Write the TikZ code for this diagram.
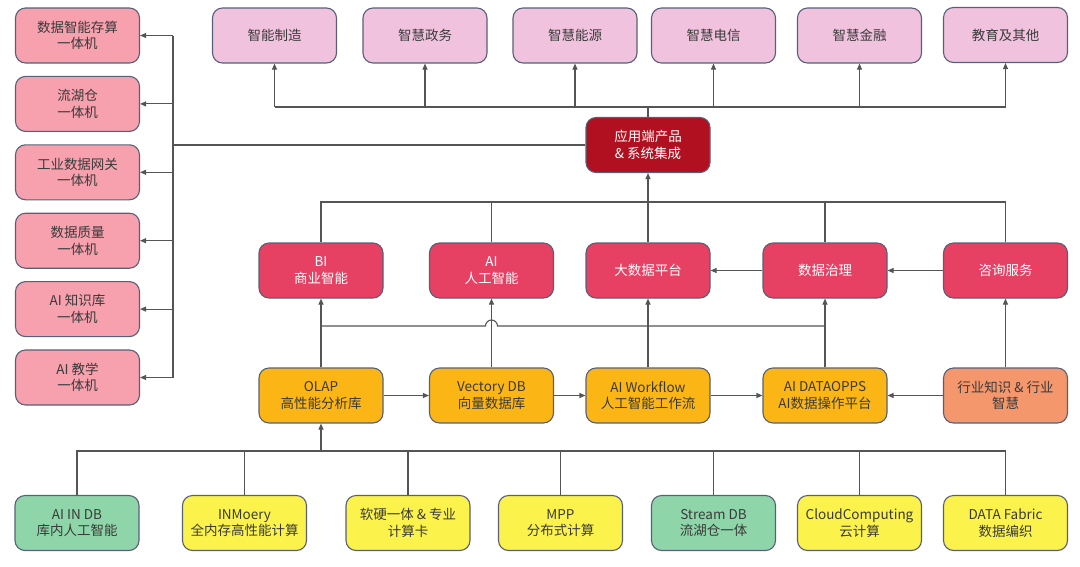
\documentclass[tikz,border=0pt]{standalone}
\usepackage{fontspec}
\setmainfont{Noto Sans CJK SC}
\usetikzlibrary{arrows.meta}

\definecolor{edge}{HTML}{5A5F78}
\definecolor{wirec}{HTML}{555555}
\definecolor{ink}{HTML}{3A3A3A}
\definecolor{sidepink}{HTML}{F7A0AE}
\definecolor{toppink}{HTML}{F1C2DE}
\definecolor{appred}{HTML}{B0101F}
\definecolor{midred}{HTML}{E64062}
\definecolor{amber}{HTML}{FBB615}
\definecolor{peach}{HTML}{F4976C}
\definecolor{mint}{HTML}{8ED6A9}
\definecolor{lemon}{HTML}{FBF34B}

\begin{document}
\begin{tikzpicture}[x=1pt, y=-1pt,
  every node/.style={font=\fontsize{13.5}{16.5}\selectfont, align=center},
  box/.style={draw=edge, line width=1.1pt, rounded corners=10pt,
    minimum width=124pt, minimum height=55pt, inner sep=0pt, text=ink},
  redbox/.style={box, text=white},
  wire/.style={draw=wirec, line width=1.1pt},
  arr/.style={wire, -{Triangle[length=6pt,width=5pt]}}]
  \useasboundingbox (0,0) rectangle (1080,566);
  % all-in-one machines
  \foreach \i/\t in {1/数据智能存算\\一体机, 2/流湖仓\\一体机, 3/工业数据网关\\一体机,
      4/数据质量\\一体机, 5/AI 知识库\\一体机, 6/AI 教学\\一体机}
    \node[box, fill=sidepink] (l\i) at (77.5,{35.5+68.4*(\i-1)}) {\t};
  % industries
  \node[box, fill=toppink] (t1) at (274.5,35.5) {智能制造};
  \node[box, fill=toppink] (t2) at (425,35.5) {智慧政务};
  \node[box, fill=toppink] (t3) at (575,35.5) {智慧能源};
  \node[box, fill=toppink] (t4) at (713.5,35.5) {智慧电信};
  \node[box, fill=toppink] (t5) at (859.5,35.5) {智慧金融};
  \node[box, fill=toppink] (t6) at (1005.5,35) {教育及其他};
  \node[redbox, fill=appred] (app) at (648,145) {应用端产品\\\& 系统集成};
  % services
  \node[redbox, fill=midred] (m1) at (321,270.5) {BI\\商业智能};
  \node[redbox, fill=midred] (m2) at (491.5,270.5) {AI\\人工智能};
  \node[redbox, fill=midred] (m3) at (648,270.5) {大数据平台};
  \node[redbox, fill=midred] (m4) at (825,270.5) {数据治理};
  \node[redbox, fill=midred] (m5) at (1005.5,270.5) {咨询服务};
  % platforms
  \node[box, fill=amber] (y1) at (321,395.5) {OLAP\\高性能分析库};
  \node[box, fill=amber] (y2) at (491.5,395.5) {Vectory DB\\向量数据库};
  \node[box, fill=amber] (y3) at (648,395.5) {AI Workflow\\人工智能工作流};
  \node[box, fill=amber] (y4) at (825,395.5) {AI DATAOPPS\\AI数据操作平台};
  \node[box, fill=peach] (y5) at (1005.5,395.5) {行业知识 \& 行业\\智慧};
  % base technologies
  \node[box, fill=mint] (b1) at (77,523) {AI IN DB\\库内人工智能};
  \node[box, fill=lemon] (b2) at (244.5,523) {INMoery\\全内存高性能计算};
  \node[box, fill=lemon] (b3) at (408,523) {软硬一体 \& 专业\\计算卡};
  \node[box, fill=lemon] (b4) at (560.5,523) {MPP\\分布式计算};
  \node[box, fill=mint] (b5) at (713.5,523) {Stream DB\\流湖仓一体};
  \node[box, fill=lemon] (b6) at (859.5,523) {CloudComputing\\云计算};
  \node[box, fill=lemon] (b7) at (1005.5,523) {DATA Fabric\\数据编织};
  % upward to industries
  \coordinate (tbus) at (648,107);
  \draw[wire] (app.north) -- (tbus);
  \draw[wire] (t1.south |- tbus) -- (t6.south |- tbus);
  \foreach \i in {1,...,6} \draw[arr] (t\i.south |- tbus) -- (t\i.south);
  % left to machines
  \coordinate (lbus) at (173,145);
  \draw[wire] (app.west) -- (lbus);
  \draw[wire] (lbus |- l1.east) -- (lbus |- l6.east);
  \foreach \i in {1,...,6} \draw[arr] (lbus |- l\i.east) -- (l\i.east);
  % services into the integration box
  \coordinate (rbus) at (648,202);
  \draw[wire] (m1.north) -- (m1.north |- rbus) -- (m5.north |- rbus) -- (m5.north);
  \foreach \i in {2,4} \draw[wire] (m\i.north) -- (m\i.north |- rbus);
  \draw[arr] (m3.north) -- (app.south);
  \draw[arr] (m5) -- (m4);
  \draw[arr] (m4) -- (m3);
  % platform row
  \draw[arr] (y1) -- (y2);
  \draw[arr] (y2) -- (y3);
  \draw[arr] (y3) -- (y4);
  \draw[arr] (y5) -- (y4);
  \foreach \i in {1,...,5} \draw[arr] (y\i) -- (m\i);
  \coordinate (mbus) at (648,326);
  \coordinate (hop) at (y2.north |- mbus);
  \draw[wire] (y1.north |- mbus) -- ([xshift=-6pt]hop)
    arc[start angle=180, end angle=360, radius=6] -- (y4.north |- mbus);
  % base row
  \coordinate (bbus) at (321,451);
  \draw[wire] (b1.north) -- (b1.north |- bbus) -- (b7.north |- bbus) -- (b7.north);
  \foreach \i in {2,...,6} \draw[wire] (b\i.north) -- (b\i.north |- bbus);
  \draw[arr] (y1.south |- bbus) -- (y1.south);
\end{tikzpicture}
\end{document}
